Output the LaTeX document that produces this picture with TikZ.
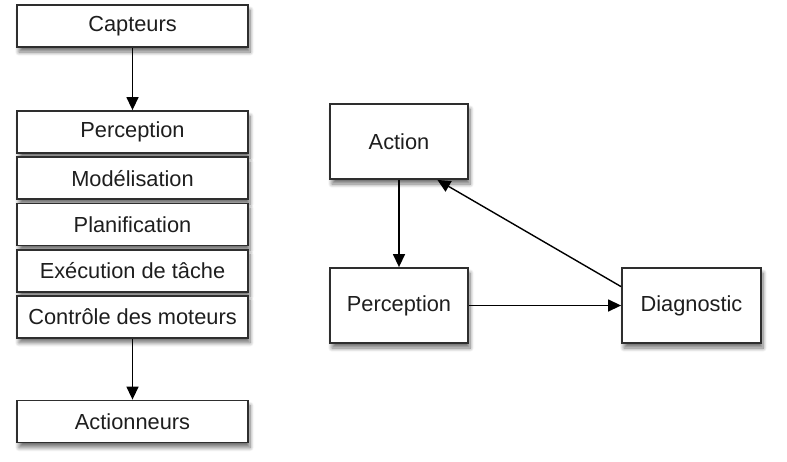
\documentclass[tikz,border=0pt]{standalone}
\usepackage{fontspec}
\setmainfont{Liberation Sans}
\usepackage{xcolor}
\usepackage{tikz}
\usetikzlibrary{arrows.meta,positioning,shadows.blur}
\definecolor{edgegray}{HTML}{2E2E2E}
\definecolor{inkgray}{HTML}{1E1E1E}
\tikzset{
  layerbox/.style={draw=edgegray,line width=1.8pt,fill=white,minimum width=231pt,minimum height=42pt,inner sep=0pt,font=\fontsize{21.8}{26}\selectfont,text=inkgray,blur shadow={shadow xshift=2pt,shadow yshift=-5pt,shadow blur steps=8,shadow blur radius=4pt,shadow opacity=55}},
  loopbox/.style={layerbox,minimum width=138pt,minimum height=75pt},
  flowarrow/.style={-{Triangle[length=13pt,width=12pt]},draw=black,line width=1.4pt},
}
\begin{document}
\begin{tikzpicture}[x=1pt,y=-1pt,node distance=2.4pt]
    \useasboundingbox (0,0) rectangle (787,461);
    % left: layered architecture
    \node[layerbox] (capt) at (132.5,26) {Capteurs};
    \node[layerbox] (percl) at (132.5,132) {Perception};
    \node[layerbox,below=of percl] (model) {Modélisation};
    \node[layerbox,below=of model] (plan) {Planification};
    \node[layerbox,below=of plan] (exec) {Exécution de tâche};
    \node[layerbox,below=of exec] (ctrl) {Contrôle des moteurs};
    \node[layerbox] (actr) at (132.5,421.5) {Actionneurs};
    \draw[flowarrow] (capt)--(percl); \draw[flowarrow] (ctrl)--(actr);
    % right: perception / action loop
    \node[loopbox] (action) at (399,141.5) {Action};
    \node[loopbox] (percr) at (399,305.5) {Perception};
    \node[loopbox,minimum width=139pt] (diag) at (691.5,305.5) {Diagnostic};
    \draw[flowarrow] (action)--(percr); \draw[flowarrow] (percr)--(diag);
    \draw[flowarrow] (diag.165)--(action.-45);
  \end{tikzpicture}
\end{document}
